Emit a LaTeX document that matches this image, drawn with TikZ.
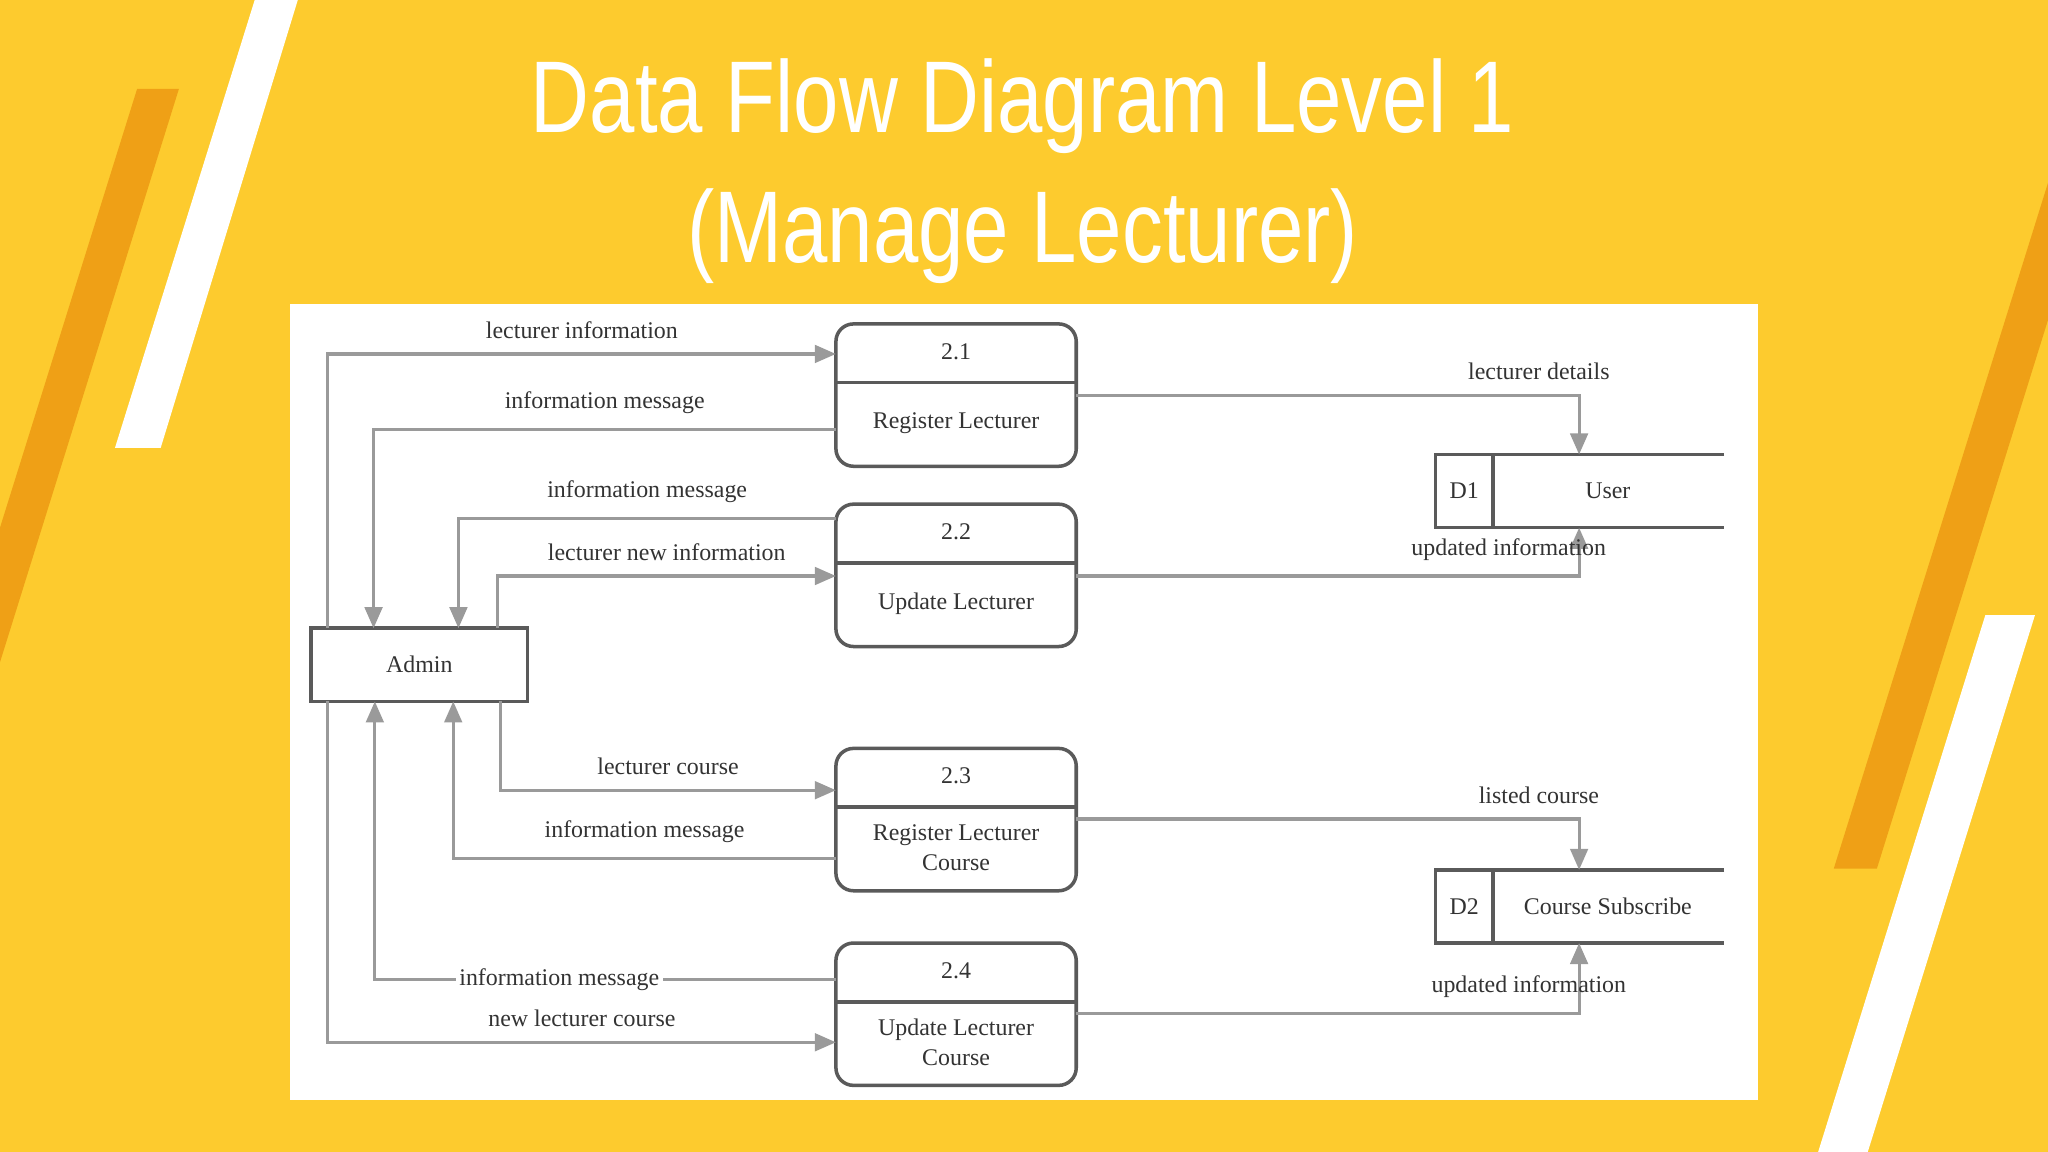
\documentclass[tikz,border=0pt]{standalone}
\usepackage{fontspec}
\setmainfont{Liberation Serif}
\newfontfamily\titlefont{Liberation Sans}
\usetikzlibrary{arrows.meta,positioning,calc}
\definecolor{bgyellow}{HTML}{FDCB2E}
\definecolor{stripe}{HTML}{EFA016}
\definecolor{flowgray}{HTML}{9A9A9A}
\definecolor{boxgray}{HTML}{5A5A5A}

\begin{document}
\begin{tikzpicture}[x=0.013061cm,y=-0.013061cm,
    flow/.style={draw=flowgray,line width=0.9pt,-{Triangle[length=6pt,width=5pt]}},
    lbl/.style={font=\fontsize{6.8}{8}\selectfont,text=black!80,inner sep=1pt},
    proc/.style={draw=boxgray,line width=1pt,rounded corners=5pt},
    txt/.style={font=\fontsize{6.8}{8.5}\selectfont,text=black!80,align=center}]
  % background
  \fill[bgyellow] (0,0) rectangle (1568,882);
  \useasboundingbox (0,0) rectangle (1568,882);
  \fill[white] (195,0) -- (228,0) -- (123,343) -- (88,343) -- cycle;
  \fill[stripe] (105,68) -- (137,68) -- (0,507) -- (0,404) -- cycle;
  \fill[stripe] (1404,665) -- (1437,665) -- (1568,245) -- (1568,140) -- cycle;
  \fill[white] (1520,471) -- (1558,471) -- (1430,882) -- (1392,882) -- cycle;
  \node[font=\titlefont\fontsize{29}{37}\selectfont,text=white,xscale=0.8,align=center] (title) at (783,131) {Data Flow Diagram Level 1\\(Manage Lecturer)};
  \fill[white] (222,233) rectangle (1346,842);

  % processes
  \foreach \n/\top/\name in {1/248/Register Lecturer,2/386/Update Lecturer,
                             3/573/Register Lecturer\\Course,4/722/Update Lecturer\\Course}{
    \draw[proc] (640,\top) rectangle (824,\top+109);
    \draw[boxgray,line width=1pt] (640,\top+45) -- (824,\top+45);
    \node[txt] (num\n) at (732,\top+21) {2.\n};
    \node[txt] (p\n) at (732,\top+76) {\name};
    \coordinate (pw\n) at (640,\top);
    \coordinate (pe\n) at (824,\top);
  }

  % admin and stores
  \draw[boxgray,line width=1pt] (238,481) rectangle (404,537);
  \node[txt] (admin) at (321,509) {Admin};
  \foreach \s/\top/\name in {1/348/User,2/666/Course Subscribe}{
    \draw[boxgray,line width=1pt] (1320,\top) -- (1099,\top) -- (1099,\top+56) -- (1320,\top+56);
    \draw[boxgray,line width=1pt] (1143,\top) -- (1143,\top+56);
    \node[txt] (dn\s) at (1121,\top+28) {D\s};
    \node[txt] (d\s) at (1231,\top+28) {\name};
  }

  % flows to and from admin
  \draw[flow] (251,481) |- node[lbl,pos=0.75,above=3pt] {lecturer information} ($(pw1)+(0,23)$);
  \draw[flow] ($(pw1)+(0,81)$) -| node[lbl,pos=0.25,above=3pt] {information message} (286,481);
  \draw[flow] ($(pw2)+(0,11)$) -| node[lbl,pos=0.25,above=3pt] {information message} (351,481);
  \draw[flow] (381,481) |- node[lbl,pos=0.75,above=3pt] {lecturer new information} ($(pw2)+(0,55)$);
  \draw[flow] (383,537) |- node[lbl,pos=0.75,above=3pt] {lecturer course} ($(pw3)+(0,32)$);
  \draw[flow] ($(pw3)+(0,84)$) -| node[lbl,pos=0.25,above=3pt] {information message} (347,537);
  \draw[flow] ($(pw4)+(0,28)$) -| node[lbl,pos=0.3,fill=white] {information message} (287,537);
  \draw[flow] (251,537) |- node[lbl,pos=0.75,above=3pt] {new lecturer course} ($(pw4)+(0,76)$);

  % flows to stores
  \draw[flow] ($(pe1)+(0,55)$) -| node[lbl,pos=0.46,above=3pt] {lecturer details} (1209,348);
  \draw[flow] ($(pe2)+(0,55)$) -| node[lbl,pos=0.43,above=3pt] {updated information} (1209,404);
  \draw[flow] ($(pe3)+(0,54)$) -| node[lbl,pos=0.46,above=3pt] {listed course} (1209,666);
  \draw[flow] ($(pe4)+(0,54)$) -| node[lbl,pos=0.45,above=3pt] {updated information} (1209,722);
\end{tikzpicture}
\end{document}
